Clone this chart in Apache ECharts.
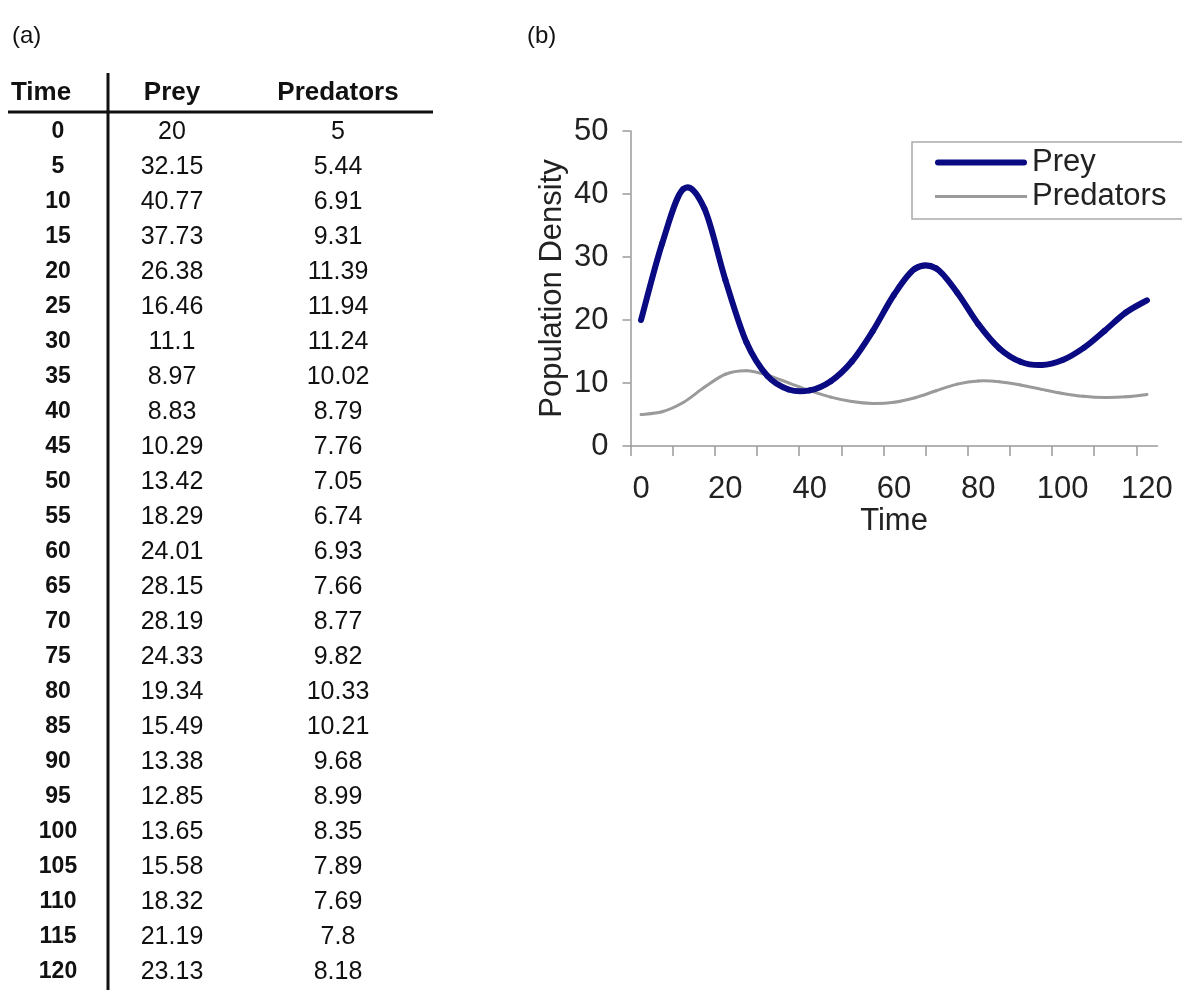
<!DOCTYPE html>
<html style="height: 100%">

<head>
    <meta charset="utf-8" />
    <title>Prey and predators</title>
    <script src="https://cdn.jsdelivr.net/npm/echarts@6/dist/echarts.min.js"></script>
</head>

<body style="height: 100%; margin: 0; overflow: hidden; background: #fff">
    <div id="container" style="width: 1182px; height: 995px"></div>
    <script>
        // data (a)
        var times = [0, 5, 10, 15, 20, 25, 30, 35, 40, 45, 50, 55, 60, 65, 70, 75, 80, 85, 90, 95, 100, 105, 110, 115, 120];
        var prey = [20, 32.15, 40.77, 37.73, 26.38, 16.46, 11.1, 8.97, 8.83, 10.29, 13.42, 18.29, 24.01, 28.15, 28.19, 24.33, 19.34, 15.49, 13.38, 12.85, 13.65, 15.58, 18.32, 21.19, 23.13];
        var predators = [5, 5.44, 6.91, 9.31, 11.39, 11.94, 11.24, 10.02, 8.79, 7.76, 7.05, 6.74, 6.93, 7.66, 8.77, 9.82, 10.33, 10.21, 9.68, 8.99, 8.35, 7.89, 7.69, 7.8, 8.18];
        var headers = ["Time", "Prey", "Predators"];

        var font = '"Liberation Sans", Arial, sans-serif';
        var preyColor = "#0a0a82";
        var predColor = "#9a9a9a";
        var dom = document.getElementById("container");
        var myChart = echarts.init(dom, null, { renderer: "canvas" });

        // table (a) built as graphic text
        var colX = [58, 172, 338];
        var headX = [41, 172, 338];
        var rowY0 = 132, rowH = 35;
        var graphics = [];
        function txt(s, x, y, f, align) {
            return {
                type: "text", x: x, y: y, silent: true,
                style: { text: String(s), font: f, fill: "#111", align: align || "center", verticalAlign: "middle" }
            };
        }
        graphics.push(txt("(a)", 12, 36, "24px " + font, "left"));
        graphics.push(txt("(b)", 527, 36, "24px " + font, "left"));
        headers.forEach(function (h, i) {
            graphics.push(txt(h, headX[i], 93, "bold 26px " + font));
        });
        times.forEach(function (t, i) {
            var y = rowY0 + i * rowH;
            graphics.push(txt(t, colX[0], y, "bold 23px " + font));
            graphics.push(txt(prey[i], colX[1], y, "25px " + font));
            graphics.push(txt(predators[i], colX[2], y, "25px " + font));
        });
        graphics.push({ type: "line", silent: true, shape: { x1: 8, y1: 112, x2: 433, y2: 112 }, style: { stroke: "#111", lineWidth: 3 } });
        graphics.push({ type: "line", silent: true, shape: { x1: 108, y1: 73, x2: 108, y2: 990 }, style: { stroke: "#111", lineWidth: 3 } });

        // excel-like smoothed line: one bezier piece per point, catmull-rom tangents
        function smoothLine(values, width, color) {
            return function (params, api) {
                var i = params.dataIndex;
                if (i >= values.length - 1) return null;
                var p = function (k) {
                    k = Math.max(0, Math.min(values.length - 1, k));
                    return api.coord([k, values[k]]);
                };
                var p0 = p(i - 1), p1 = p(i), p2 = p(i + 1), p3 = p(i + 2);
                return {
                    type: "bezierCurve",
                    shape: {
                        x1: p1[0], y1: p1[1], x2: p2[0], y2: p2[1],
                        cpx1: p1[0] + (p2[0] - p0[0]) / 6, cpy1: p1[1] + (p2[1] - p0[1]) / 6,
                        cpx2: p2[0] - (p3[0] - p1[0]) / 6, cpy2: p2[1] - (p3[1] - p1[1]) / 6
                    },
                    style: { stroke: color, lineWidth: width, fill: "none", lineCap: "round" }
                };
            };
        }
        var axisGrey = { color: "#9a9a9a", width: 1.5 };

        var option = {
            backgroundColor: "#fff",
            animation: false,
            textStyle: { fontFamily: font },
            graphic: graphics,
            grid: [
                { left: 630.5, right: 24.5, top: 131, bottom: 549 },
                // same plot, only for the tick marks every 10 time units
                { left: 630.5, right: 45.6, top: 131, bottom: 549 }
            ],
            legend: {
                orient: "vertical",
                left: 912,
                top: 142,
                padding: [5, 80, 7, 23],
                borderColor: "#aaa",
                borderWidth: 1.5,
                itemWidth: 92,
                itemHeight: 28,
                itemGap: 3,
                textStyle: { fontSize: 31, lineHeight: 28, color: "#222" },
                data: [
                    { name: "Prey", icon: "path://M3,0L89,0A3,3 0 0 1 89,6L3,6A3,3 0 0 1 3,0Z", itemStyle: { color: preyColor } },
                    { name: "Predators", icon: "path://M0,0L92,0L92,3L0,3Z", itemStyle: { color: predColor } }
                ]
            },
            xAxis: [
                {
                    type: "category",
                    data: times,
                    boundaryGap: true,
                    name: "Time",
                    nameLocation: "middle",
                    nameGap: 60,
                    nameTextStyle: { fontSize: 31, color: "#222" },
                    axisLine: { lineStyle: axisGrey },
                    axisTick: { show: false },
                    axisLabel: { interval: 3, margin: 28, fontSize: 31, color: "#222" },
                    splitLine: { show: false }
                },
                {
                    type: "value",
                    gridIndex: 1,
                    min: 0,
                    max: 120,
                    interval: 10,
                    axisLine: { show: false },
                    axisTick: { show: true, length: 10, lineStyle: axisGrey },
                    axisLabel: { show: false },
                    splitLine: { show: false }
                }
            ],
            yAxis: [
                {
                    type: "value",
                    min: 0,
                    max: 50,
                    interval: 10,
                    name: "Population Density",
                    nameLocation: "middle",
                    nameRotate: 90,
                    nameGap: 63,
                    nameTextStyle: { fontSize: 31, color: "#222" },
                    axisLine: { show: true, lineStyle: axisGrey },
                    axisTick: { show: true, length: 8, lineStyle: axisGrey },
                    axisLabel: { margin: 22, fontSize: 31, color: "#222" },
                    splitLine: { show: false }
                },
                { type: "value", gridIndex: 1, show: false, min: 0, max: 50 }
            ],
            series: [
                {
                    name: "Predators",
                    type: "custom",
                    data: predators.map(function (v, i) { return [i, v]; }),
                    itemStyle: { color: predColor },
                    renderItem: smoothLine(predators, 3, predColor)
                },
                {
                    name: "Prey",
                    type: "custom",
                    data: prey.map(function (v, i) { return [i, v]; }),
                    itemStyle: { color: preyColor },
                    renderItem: smoothLine(prey, 6, preyColor)
                }
            ]
        };
        myChart.setOption(option);
    </script>
</body>

</html>
